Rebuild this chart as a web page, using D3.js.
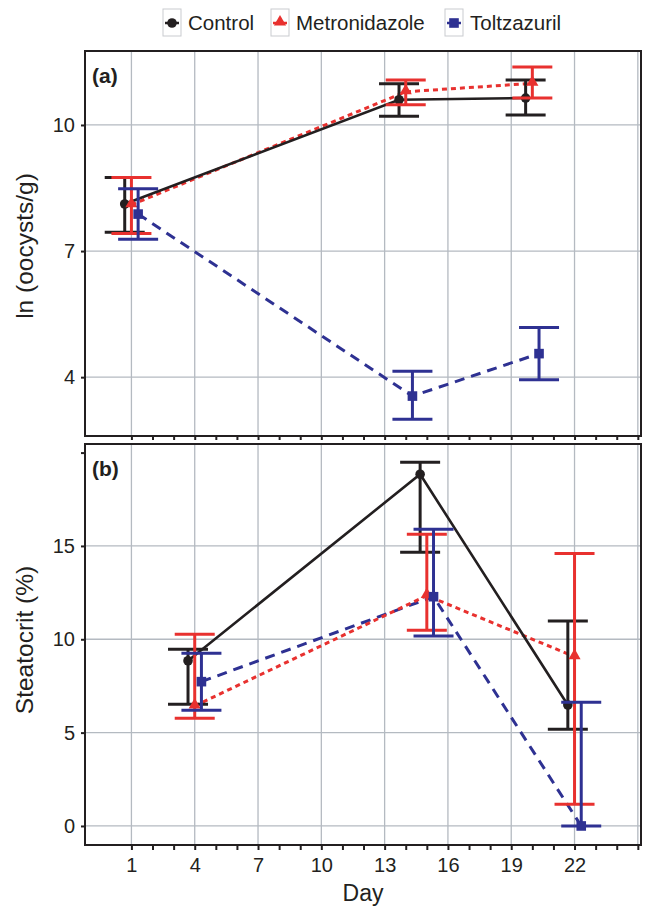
<!DOCTYPE html>
<html>
<head>
<meta charset="utf-8">
<script src="https://cdn.jsdelivr.net/npm/d3@7"></script>
<style>
  body { margin: 0; background: #fff; }
  text { font-family: "Liberation Sans", Arial, sans-serif; fill: #231f20; }
</style>
</head>
<body>
<script>
// data
const groups = ["Control", "Metronidazole", "Toltzazuril"];
const daysA = [1, 14, 20];
const daysB = [4, 15, 22];

// panel (a) ln(oocysts/g)
const ctrlA = [8.12, 10.6, 10.64];
const ctrlALow = [7.45, 10.21, 10.24];
const ctrlAHigh = [8.75, 10.98, 11.07];
const metA = [8.1, 10.79, 10.99];
const metALow = [7.42, 10.48, 10.64];
const metAHigh = [8.75, 11.07, 11.38];
const tolA = [7.88, 3.55, 4.56];
const tolALow = [7.28, 3.0, 3.94];
const tolAHigh = [8.48, 4.14, 5.18];

// panel (b) steatocrit %
const ctrlB = [8.85, 18.84, 6.48];
const ctrlBLow = [6.52, 14.66, 5.18];
const ctrlBHigh = [9.46, 19.48, 10.98];
const metB = [6.43, 12.34, 9.07];
const metBLow = [5.77, 10.48, 1.16];
const metBHigh = [10.27, 15.62, 14.6];
const tolB = [7.73, 12.28, 0];
const tolBLow = [6.2, 10.18, 0];
const tolBHigh = [9.25, 15.89, 6.63];

const xTicks = [1, 4, 7, 10, 13, 16, 19, 22];
const yTicksA = [4, 7, 10];
const yTicksB = [0, 5, 10, 15];

const colors = ["#231f20", "#e8312f", "#2e3192"];
const dashes = [null, "5,4", "10,7"];
const dodge = [-6.7, 0, 6.7];

const svg = d3.select("body").append("svg").attr("width", 645).attr("height", 909);

const x = d3.scaleLinear().domain([-1.2, 25.15]).range([85, 641]);
const yA = d3.scaleLinear().domain([2.6, 11.76]).range([436, 51]);
const yB = d3.scaleLinear().domain([-1.02, 20.46]).range([845, 444]);

function series(days, m, lo, hi) {
  return days.map((d, i) => ({ day: d, v: m[i], lo: lo[i], hi: hi[i] }));
}

const panels = [
  {
    y: yA, ticks: yTicksA, extraTicks: [], label: "(a)", title: "ln (oocysts/g)", titleY: 246,
    data: [series(daysA, ctrlA, ctrlALow, ctrlAHigh), series(daysA, metA, metALow, metAHigh), series(daysA, tolA, tolALow, tolAHigh)],
    tickLen: 4, xLabels: false
  },
  {
    y: yB, ticks: yTicksB, extraTicks: [20], label: "(b)", title: "Steatocrit (%)", titleY: 640,
    data: [series(daysB, ctrlB, ctrlBLow, ctrlBHigh), series(daysB, metB, metBLow, metBHigh), series(daysB, tolB, tolBLow, tolBHigh)],
    tickLen: 5, xLabels: true
  }
];

const triangle = d3.symbol().type(d3.symbolTriangle).size(64);

function marker(g, k, cx, cy) {
  if (k === 0) {
    g.append("circle").attr("cx", cx).attr("cy", cy).attr("r", 4.8).attr("fill", colors[0]);
  } else if (k === 1) {
    g.append("path").attr("d", triangle).attr("transform", "translate(" + cx + "," + (cy - 1) + ")").attr("fill", colors[1]);
  } else {
    g.append("rect").attr("x", cx - 4.8).attr("y", cy - 4.8).attr("width", 9.6).attr("height", 9.6).attr("fill", colors[2]);
  }
}

panels.forEach(p => {
  const y = p.y;
  const top = y.range()[1], bottom = y.range()[0];
  const g = svg.append("g");

  // grid
  d3.range(1, 26, 3).forEach(d => {
    g.append("line").attr("x1", x(d)).attr("x2", x(d)).attr("y1", top).attr("y2", bottom)
      .attr("stroke", "#b4bac1").attr("stroke-width", 1.3);
  });
  p.ticks.forEach(t => {
    g.append("line").attr("x1", 85).attr("x2", 641).attr("y1", y(t)).attr("y2", y(t))
      .attr("stroke", "#b4bac1").attr("stroke-width", 1.3);
  });

  // y axis
  const yAxis = g.append("g").attr("transform", "translate(85,0)")
    .call(d3.axisLeft(y).tickValues(p.ticks.concat(p.extraTicks)).tickSize(4).tickPadding(6)
      .tickFormat(t => p.extraTicks.includes(t) ? "" : t));
  yAxis.select(".domain").remove();
  yAxis.selectAll("line").attr("stroke", "#231f20").attr("stroke-width", 2);
  yAxis.selectAll("text").attr("font-size", 20).style("font-family", "Liberation Sans, Arial, sans-serif").attr("fill", "#231f20");

  // x axis (every day ticked, labels only on panel b)
  const xAxis = g.append("g").attr("transform", "translate(0," + bottom + ")")
    .call(d3.axisBottom(x).tickValues(d3.range(1, 26)).tickSize(p.tickLen).tickPadding(8)
      .tickFormat(d => (p.xLabels && xTicks.includes(d)) ? d : ""));
  xAxis.select(".domain").remove();
  xAxis.selectAll("line").attr("stroke", "#231f20").attr("stroke-width", 2);
  xAxis.selectAll("text").attr("font-size", 20).style("font-family", "Liberation Sans, Arial, sans-serif").attr("fill", "#231f20");

  // frame
  g.append("rect").attr("x", 85).attr("y", top).attr("width", 556).attr("height", bottom - top)
    .attr("fill", "none").attr("stroke", "#231f20").attr("stroke-width", 2);

  // lines
  [2, 1, 0].forEach(k => {
    const line = d3.line().x(d => x(d.day) + dodge[k]).y(d => y(d.v));
    g.append("path").datum(p.data[k]).attr("d", line).attr("fill", "none")
      .attr("stroke", colors[k]).attr("stroke-width", k === 0 ? 2.6 : 3)
      .attr("stroke-dasharray", dashes[k]);
  });

  // error bars and markers
  [0, 1, 2].forEach(k => {
    p.data[k].forEach(d => {
      const cx = x(d.day) + dodge[k];
      const eb = g.append("g").attr("stroke", colors[k]).attr("stroke-width", 3);
      eb.append("line").attr("x1", cx).attr("x2", cx).attr("y1", y(d.lo)).attr("y2", y(d.hi));
      eb.append("line").attr("x1", cx - 20).attr("x2", cx + 20).attr("y1", y(d.lo)).attr("y2", y(d.lo));
      eb.append("line").attr("x1", cx - 20).attr("x2", cx + 20).attr("y1", y(d.hi)).attr("y2", y(d.hi));
      marker(g, k, cx, y(d.v));
    });
  });

  // panel label
  g.append("text").attr("x", 92).attr("y", top + 32).attr("font-size", 21).attr("font-weight", "bold").text(p.label);

  // y title
  g.append("text").attr("transform", "translate(33," + p.titleY + ") rotate(-90)")
    .attr("text-anchor", "middle").attr("font-size", 24.5).text(p.title);
});

// x title
svg.append("text").attr("x", 363).attr("y", 901).attr("text-anchor", "middle").attr("font-size", 23).text("Day");

// legend
const legX = [163, 271, 445];
const legend = svg.append("g");
groups.forEach((name, k) => {
  const lx = legX[k];
  legend.append("rect").attr("x", lx).attr("y", 9).attr("width", 18).attr("height", 27)
    .attr("fill", "#fff").attr("stroke", "#c9cbcf").attr("stroke-width", 1);
  legend.append("line").attr("x1", lx + 2).attr("x2", lx + 16).attr("y1", 23).attr("y2", 23)
    .attr("stroke", colors[k]).attr("stroke-width", 2.5);
  marker(legend, k, lx + 9, 23);
  legend.append("text").attr("x", lx + 25).attr("y", 30).attr("font-size", 20.5).text(name);
});
</script>
</body>
</html>
